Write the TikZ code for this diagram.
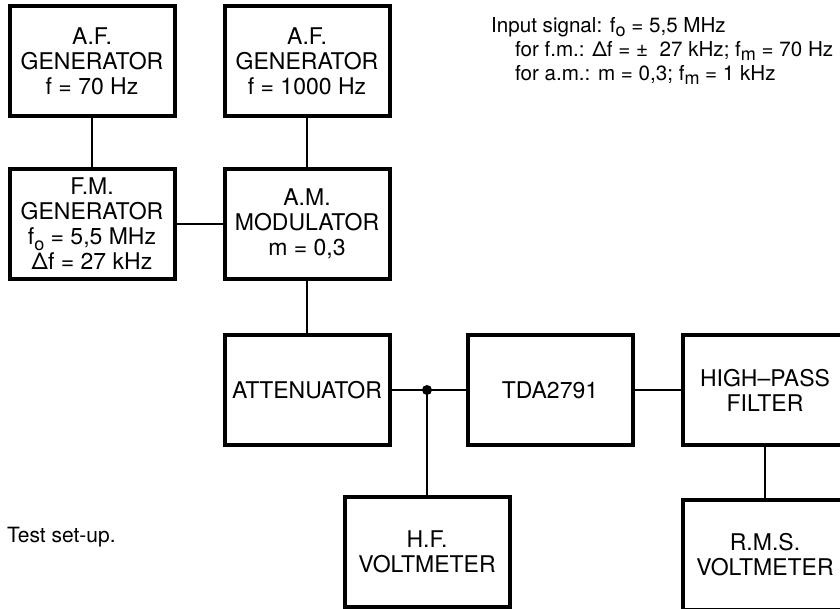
\documentclass[tikz,border=0pt]{standalone}
\usepackage{fontspec}
\setmainfont{TeX Gyre Heros}
\newcommand{\lowsub}[1]{\raisebox{-0.45ex}{\small #1}}

\begin{document}
\begin{tikzpicture}[x=0.5pt, y=-0.5pt, every node/.style={font=\fontsize{11.5}{12.5}\selectfont},
	blk/.style={draw, line width=2pt, minimum width=82.5pt, minimum height=55pt, align=center, inner sep=0pt},
	wire/.style={line width=1pt}]
	\useasboundingbox (0,0) rectangle (840,609);
	% generators and modulator
	\node[blk] (afa) at (92,61) {A.F.\\GENERATOR\\f = 70 Hz};
	\node[blk] (afb) at (307,61) {A.F.\\GENERATOR\\f = 1000 Hz};
	\node[blk] (fmg) at (92,224) {F.M.\\GENERATOR\\f\lowsub{o} = 5,5 MHz\\Δf = 27 kHz};
	\node[blk] (amm) at (307,224) {A.M.\\MODULATOR\\m = 0,3};
	% signal chain
	\node[blk] (att) at (307,390) {ATTENUATOR};
	\node[blk] (tda) at (550,390) {TDA2791};
	\node[blk] (hpf) at (765,390) {HIGH--PASS\\FILTER};
	\node[blk] (hfv) at (427,552) {H.F.\\VOLTMETER};
	\node[blk] (rms) at (765,555) {R.M.S.\\VOLTMETER};
	\draw[wire] (afa) -- (fmg);
	\draw[wire] (afb) -- (amm);
	\draw[wire] (fmg) -- (amm);
	\draw[wire] (amm) -- (att);
	\draw[wire] (att) -- (tda);
	\draw[wire] (tda) -- (hpf);
	\draw[wire] (hpf) -- (rms);
	\coordinate (jn) at (att.east -| hfv.north);
	\fill (jn) circle (2.5pt);
	\draw[wire] (jn) -- (hfv);
	% notes
	\node[anchor=north west, align=left, font=\fontsize{10.3}{12}\selectfont] (sig) at (484,10)
		{Input signal: f\lowsub{o} = 5,5 MHz\\
		\hspace*{12pt}for f.m.: Δf = ±~ 27 kHz; f\lowsub{m} = 70 Hz\\
		\hspace*{12pt}for a.m.: m = 0,3; f\lowsub{m} = 1 kHz};
	\node[anchor=west, font=\fontsize{10.5}{11}\selectfont] (cap) at (0,537) {Test set-up.};
\end{tikzpicture}
\end{document}
